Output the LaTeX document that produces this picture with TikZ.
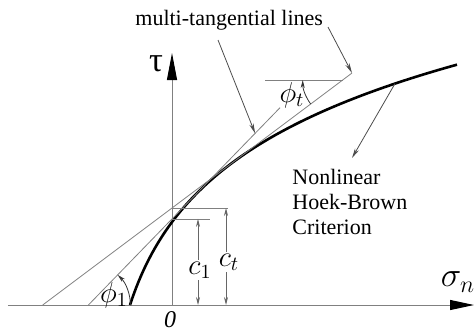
\documentclass[tikz,border=0pt]{standalone}
\usepackage{fontspec}
\setmainfont{Liberation Serif}
\usetikzlibrary{arrows.meta,calc}

\begin{document}
\begin{tikzpicture}[x=0.5pt,y=0.5pt,
	axe/.style={draw=gray,line width=0.5pt,-{Triangle[length=12pt,width=5pt,color=black]}},
	tangente/.style={draw=gray,line width=0.4pt},
	cote/.style={draw=gray!80!black,line width=0.4pt,{Stealth[length=4pt,width=2pt]}-{Stealth[length=4pt,width=2pt]}},
	arcangle/.style={draw=black!80,line width=0.4pt,-{Stealth[length=4pt,width=2pt]}},
	renvoi/.style={draw=black!70,line width=0.4pt,-{Stealth[length=5pt,width=2.2pt]}},
	texte/.style={font=\fontsize{11}{12.5}\selectfont,inner sep=0pt}]
	
	\useasboundingbox (-172,-29) rectangle (303,305);
	
	% Axes
	\coordinate (O) at (0,0);
	\draw[axe] (-164,0) -- (302,0);
	\draw[axe,-{Triangle[length=13.5pt,width=5pt,color=black]}] (O) -- (0,252);
	\node (tau) at (-16,241) {\LARGE τ};
	\node (sigma) at (286,23) {\LARGE $\sigma_n$};
	\node (zero) at (-2,-15) {\large\textit{0}};
	
	% Courbe non linéaire de Hoek-Brown
	\draw[line width=1.3pt,domain=0:327,samples=120]
	plot ({\x-42},{100*ln(1+\x/32.5)});
	
	% Droites tangentes
	\coordinate (A0) at (-129.3,0);
	\coordinate (A1) at (180,232);
	\coordinate (B0) at (-83.6,0);
	\coordinate (B1) at (108,197.3);
	\draw[tangente] (A0) -- (A1);
	\draw[tangente] (B0) -- (B1);
	
	% Cohésions c_1 et c_t
	\draw[tangente] (0,86.1) -- (38,86.1);
	\draw[tangente] (0,97) -- (56,97);
	\draw[cote] (26,86.1) -- (26,0);
	\draw[cote] (54,97) -- (54,0);
	\node[fill=white,inner sep=1pt] (c1) at (28,35) {\Large $c_1$};
	\node[fill=white,inner sep=1pt] (ct) at (57,43) {\Large $c_t$};
	
	% Angles de frottement
	\coordinate (V) at (170.7,225);
	\draw[tangente] (93,225) -- (V);
	\draw[arcangle] ($(V)+(216.87:40)$) arc[start angle=216.87,end angle=180,radius=40];
	\draw[arcangle] ($(B0)+(42,0)$) arc[start angle=0,end angle=45.8,radius=42];
	\node (phit) at (120,210) {\Large $\phi_t$};
	\node (phi1) at (-58,10) {\Large $\phi_1$};
	
	% Renvois
	\node[texte,anchor=base west] (mtl) at (-37,280) {multi-tangential lines};
	\coordinate (mtlA) at (46,265);
	\coordinate (mtlB) at (156,278);
	\draw[renvoi] (mtlA) -- ($(B0)!0.87!(B1)$);
	\draw[renvoi] (mtlB) -- (A1);
	
	\node[texte,anchor=north west,align=left] (hb) at (120,136) {Nonlinear\\Hoek-Brown\\Criterion};
	\coordinate (hbP) at (223,221.4);
	\coordinate (hbQ) at (180,147);
	\draw[renvoi] (hbP) -- (hbQ);
	
\end{tikzpicture}
\end{document}
